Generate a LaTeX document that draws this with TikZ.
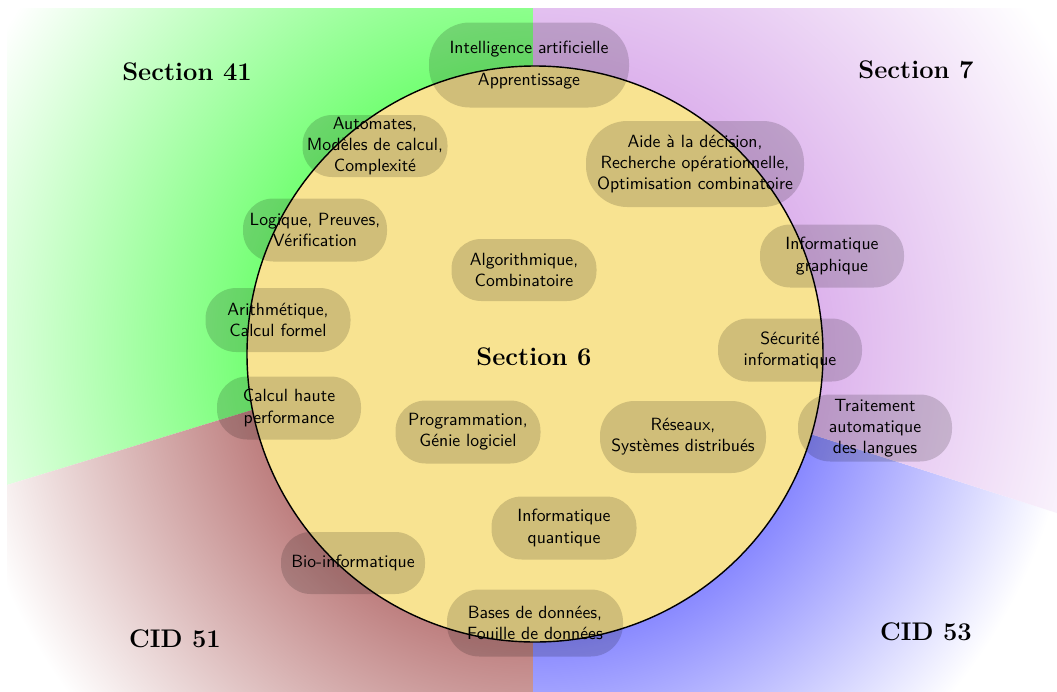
\documentclass[tikz,border=0pt]{standalone}
\usepackage{fontspec}
\def\pxu{0.5652pt}
\definecolor{circfill}{RGB}{248,227,145}
\definecolor{sgreen}{RGB}{0,255,0}
\definecolor{spurple}{RGB}{190,110,220}
\definecolor{sred}{RGB}{125,0,0}
\definecolor{sblue}{RGB}{0,0,255}
\tikzset{
  blob/.style n args={2}{fill=black, fill opacity=0.16, text opacity=1,
    font=\sffamily, align=center, inner sep=0pt,
    minimum width=#1*\pxu, minimum height=#2*\pxu,
    rounded corners=0.48*#2*\pxu},
  sectlabel/.style={font=\Large\bfseries, inner sep=0pt},
  bigcircle/.style={circle, draw=black, line width=0.8pt, fill=circfill, inner sep=0pt}
}
\begin{document}
\begin{tikzpicture}[x=\pxu, y=-\pxu]
\useasboundingbox (0,0) rectangle (1057,692);
\fill[white] (0,0) rectangle (1057,692);
% sectors
\begin{scope}
\clip (533,8) -- (533,324) -- (7,485) -- (7,8) -- cycle;
\shade[inner color=sgreen, outer color=white] (535,350) circle (620);
\end{scope}
\begin{scope}
\clip (7,485) -- (533,324) -- (533,692) -- (7,692) -- cycle;
\shade[inner color=sred, outer color=white] (535,350) circle (580);
\end{scope}
\begin{scope}
\clip (533,345) -- (1057,513) -- (1057,692) -- (533,692) -- cycle;
\shade[inner color=sblue, outer color=white] (535,350) circle (540);
\end{scope}
\begin{scope}
\clip (533,8) -- (533,345) -- (1057,513) -- (1057,8) -- cycle;
\shade[inner color=spurple, outer color=white] (535,350) circle (600);
\end{scope}
% central circle
\node[bigcircle, minimum size=576*\pxu] (c6) at (535,354) {};
% topic blobs
\node[blob={200}{85}] (ia) at (529,65) {Intelligence artificielle\\[6.5pt]Apprentissage};
\node[blob={145}{62}] (auto) at (375,146) {Automates,\\Modèles de calcul,\\Complexité};
\node[blob={144}{63}] (logi) at (315,230) {Logique, Preuves,\\Vérification};
\node[blob={145}{64}] (arit) at (278,320) {Arithmétique,\\Calcul formel};
\node[blob={144}{63}] (chp) at (289,408) {Calcul haute\\performance};
\node[blob={144}{62}] (bio) at (353,563) {Bio-informatique};
\node[blob={145}{62}] (algo) at (524,270) {Algorithmique,\\Combinatoire};
\node[blob={218}{86}] (aide) at (695,164) {Aide à la décision,\\Recherche opérationnelle,\\Optimisation combinatoire};
\node[blob={144}{63}] (graph) at (832,256) {Informatique\\graphique};
\node[blob={144}{63}] (secu) at (790,350) {Sécurité\\informatique};
\node[blob={166}{72}] (rese) at (683,437) {Réseaux,\\Systèmes distribués};
\node[blob={145}{63}] (prog) at (468,432) {Programmation,\\Génie logiciel};
\node[blob={145}{63}] (quan) at (564,528) {Informatique\\quantique};
\node[blob={176}{67}] (bdd) at (535,623) {Bases de données,\\Fouille de données};
\node[blob={154}{67}] (tal) at (875,428) {Traitement\\automatique\\des langues};
% section labels
\node[sectlabel] (s41) at (187,72) {Section 41};
\node[sectlabel] (s7) at (916,70) {Section 7};
\node[sectlabel] (c51) at (175,639) {CID 51};
\node[sectlabel] (c53) at (926,632) {CID 53};
\node[sectlabel] (s6) at (534,357) {Section 6};
\end{tikzpicture}
\end{document}
